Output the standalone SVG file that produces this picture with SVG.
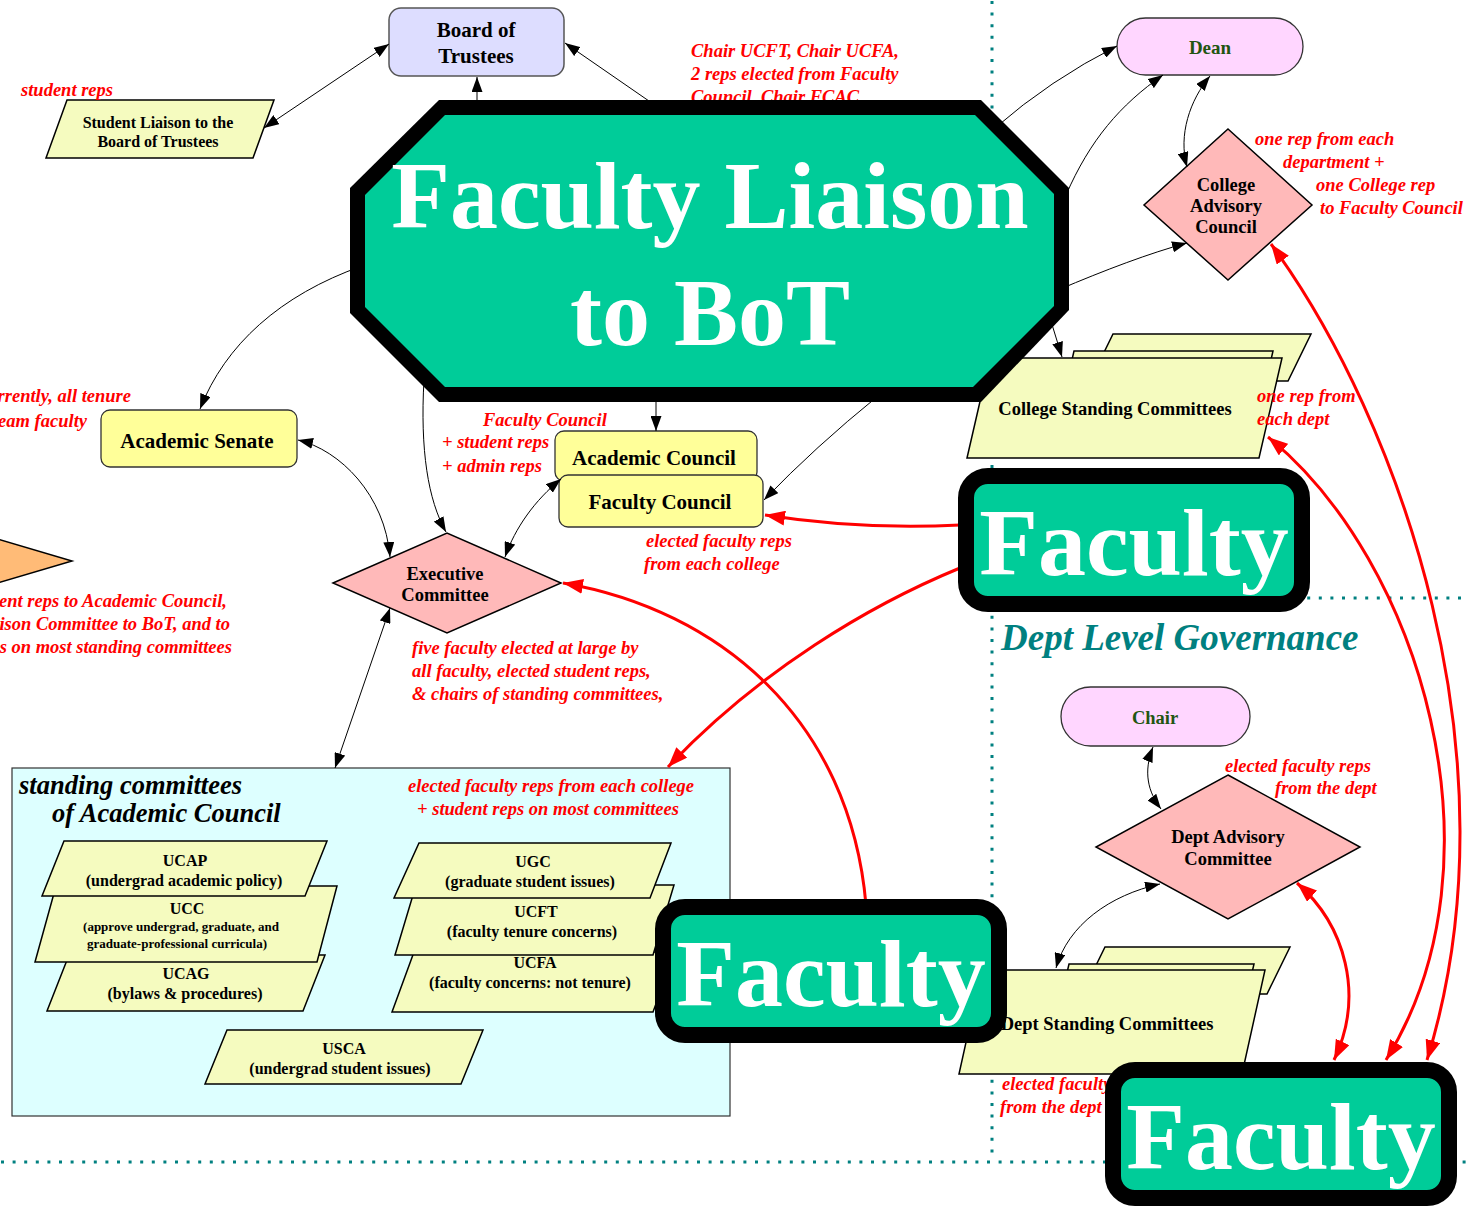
<svg xmlns="http://www.w3.org/2000/svg" width="1466" height="1207" viewBox="0 0 1466 1207">
<style>
.n{font-family:"Liberation Serif","Times New Roman",serif;font-weight:bold;fill:#000;text-anchor:middle}
.r{font-family:"Liberation Serif","Times New Roman",serif;font-weight:bold;font-style:italic;fill:#ff0000;font-size:18.5px}
.re{text-anchor:end}
.rm{text-anchor:middle}
.big{font-family:"Liberation Serif","Times New Roman",serif;font-weight:bold;fill:#fff;text-anchor:middle;font-size:96px}
.ed{fill:none;stroke:#000;stroke-width:1}
.er{fill:none;stroke:#ff0000;stroke-width:3}
.par{fill:#f5fbbf;stroke:#000;stroke-width:1.5}
.yel{fill:#ffff99;stroke:#333;stroke-width:1.3}
.dia{fill:#ffb9b9;stroke:#000;stroke-width:1.5}
.pill{fill:#ffd6ff;stroke:#333;stroke-width:1.3}
.dot{fill:none;stroke:#008080;stroke-width:3;stroke-dasharray:3 8.6}
.fac{fill:#00cc99;stroke:#000;stroke-width:16}
</style>
<defs>
<marker id="a" viewBox="0 0 15 11" refX="15" refY="5.5" markerWidth="15" markerHeight="11" markerUnits="userSpaceOnUse" orient="auto-start-reverse"><path d="M0,0L15,5.5L0,11z" fill="#000"/></marker>
<marker id="ar" viewBox="0 0 20 15" refX="20" refY="7.5" markerWidth="20" markerHeight="15" markerUnits="userSpaceOnUse" orient="auto-start-reverse"><path d="M0,0L20,7.5L0,15z" fill="#ff0000"/></marker>
</defs>
<rect width="1466" height="1207" fill="#fff"/>

<g id="dividers">
<line class="dot" x1="992" y1="1" x2="992" y2="1160"/>
<line class="dot" x1="994" y1="598" x2="1466" y2="598"/>
<line class="dot" x1="1" y1="1162" x2="1466" y2="1162"/>
</g>
<text x="1001" y="650" font-family="Liberation Serif, Times New Roman, serif" font-weight="bold" font-style="italic" font-size="37" fill="#008080">Dept Level Governance</text>

<g id="standing-committees">
<rect x="12" y="768" width="718" height="348" fill="#ddffff" stroke="#333" stroke-width="1.2"/>
<text x="19" y="794" font-family="Liberation Serif, Times New Roman, serif" font-weight="bold" font-style="italic" font-size="26.5">standing committees</text>
<text x="52" y="822" font-family="Liberation Serif, Times New Roman, serif" font-weight="bold" font-style="italic" font-size="26.5">of Academic Council</text>
</g>
<g id="UCAG"><polygon class="par" points="69,955 325,955 303,1011 47,1011"/><text class="n" x="186" y="979" font-size="16">UCAG</text><text class="n" x="185" y="999" font-size="16">(bylaws &amp; procedures)</text></g>
<g id="UCC"><polygon class="par" points="56,886 337,886 317,962 35,962"/><text class="n" x="187" y="914" font-size="16">UCC</text><text class="n" x="181" y="931" font-size="13">(approve undergrad, graduate, and</text><text class="n" x="177" y="948" font-size="13">graduate-professional curricula)</text></g>
<g id="UCAP"><polygon class="par" points="64,841 327,841 305,896 42,896"/><text class="n" x="185" y="866" font-size="16">UCAP</text><text class="n" x="184" y="886" font-size="16">(undergrad academic policy)</text></g>
<g id="UCFA"><polygon class="par" points="414,952 675,952 653,1012 392,1012"/><text class="n" x="535" y="968" font-size="16">UCFA</text><text class="n" x="530" y="988" font-size="16">(faculty concerns: not tenure)</text></g>
<g id="UCFT"><polygon class="par" points="416,885 674,885 653,955 395,955"/><text class="n" x="536" y="917" font-size="16">UCFT</text><text class="n" x="532" y="937" font-size="16">(faculty tenure concerns)</text></g>
<g id="UGC"><polygon class="par" points="419,843 671,843 650,898 394,898"/><text class="n" x="533" y="867" font-size="16">UGC</text><text class="n" x="530" y="887" font-size="16">(graduate student issues)</text></g>
<g id="USCA"><polygon class="par" points="227,1030 483,1030 461,1084 205,1084"/><text class="n" x="344" y="1054" font-size="16">USCA</text><text class="n" x="340" y="1074" font-size="16">(undergrad student issues)</text></g>

<g id="board"><rect x="389" y="8" width="175" height="68" rx="12" fill="#ddddff" stroke="#555" stroke-width="1.5"/><text class="n" x="476" y="37" font-size="21">Board of</text><text class="n" x="476" y="63" font-size="21">Trustees</text></g>
<g id="student-liaison"><polygon class="par" points="67,100 274,100 253,158 46,158"/><text class="n" x="158" y="128" font-size="16">Student Liaison to the</text><text class="n" x="158" y="147" font-size="16">Board of Trustees</text></g>
<g id="orange-triangle"><polygon points="-40,528 72,561 -40,594" fill="#ffbb77" stroke="#000" stroke-width="1.5"/></g>
<g id="academic-senate"><rect class="yel" x="101" y="410" width="196" height="57" rx="9"/><text class="n" x="197" y="448" font-size="21">Academic Senate</text></g>
<g id="academic-council"><rect class="yel" x="555" y="431" width="202" height="50" rx="9"/><text class="n" x="654" y="465" font-size="21">Academic Council</text></g>
<g id="faculty-council"><rect class="yel" x="559" y="475" width="204" height="52" rx="9"/><text class="n" x="660" y="509" font-size="21">Faculty Council</text></g>
<g id="executive-committee"><polygon class="dia" points="333,583 447,533 561,583 447,633"/><text class="n" x="445" y="580" font-size="18.5">Executive</text><text class="n" x="445" y="601" font-size="18.5">Committee</text></g>
<g id="dean"><rect class="pill" x="1117" y="18" width="186" height="57" rx="28.5"/><text class="n" x="1210" y="54" font-size="19" style="fill:#225511">Dean</text></g>
<g id="college-advisory-council"><polygon class="dia" points="1228,129 1312,205 1228,280 1144,205"/><text class="n" x="1226" y="191" font-size="18.5">College</text><text class="n" x="1226" y="212" font-size="18.5">Advisory</text><text class="n" x="1226" y="233" font-size="18.5">Council</text></g>
<g id="college-standing-committees"><polygon class="par" points="1113,334 1311,334 1288,381 1090,381"/><polygon class="par" points="1074,351 1273,351 1250,451 1051,451"/><polygon class="par" points="990,358 1282,358 1259,458 967,458"/><text class="n" x="1115" y="415" font-size="18.5">College Standing Committees</text></g>
<g id="chair"><rect class="pill" x="1061" y="687" width="189" height="59" rx="29.5"/><text class="n" x="1155" y="724" font-size="18.5" style="fill:#225511">Chair</text></g>
<g id="dept-advisory-committee"><polygon class="dia" points="1228,775 1360,847 1228,919 1096,847"/><text class="n" x="1228" y="843" font-size="18.5">Dept Advisory</text><text class="n" x="1228" y="865" font-size="18.5">Committee</text></g>
<g id="dept-standing-committees"><polygon class="par" points="1105,947 1290,947 1267,994 1082,994"/><polygon class="par" points="1069,964 1254,964 1231,1064 1046,1064"/><polygon class="par" points="982,970 1265,970 1242,1074 959,1074"/><text class="n" x="1107" y="1030" font-size="18.5">Dept Standing Committees</text></g>

<g id="connectors">
<path class="ed" d="M389,44 L264,128" marker-start="url(#a)" marker-end="url(#a)"/>
<path class="ed" d="M477,110 L477,77" marker-end="url(#a)"/>
<path class="ed" d="M662,110 L565,43" marker-end="url(#a)"/>
<path class="ed" d="M362,266 C 280,295 225,345 200,409" marker-end="url(#a)"/>
<path class="ed" d="M424,380 C 420,450 428,500 446,532" marker-end="url(#a)"/>
<path class="ed" d="M298,440 C 340,450 385,495 390,557" marker-start="url(#a)" marker-end="url(#a)"/>
<path class="ed" d="M656,395 L656,431" marker-end="url(#a)"/>
<path class="ed" d="M561,479 C 535,500 515,528 505,557" marker-start="url(#a)" marker-end="url(#a)"/>
<path class="ed" d="M878,396 Q 815,447 764,500" marker-end="url(#a)"/>
<path class="ed" d="M390,608 L335,768" marker-start="url(#a)" marker-end="url(#a)"/>
<path class="ed" d="M995,128 Q 1050,80 1117,46" marker-end="url(#a)"/>
<path class="ed" d="M1066,195 C 1090,140 1120,105 1163,75" marker-end="url(#a)"/>
<path class="ed" d="M1210,76 C 1190,100 1178,135 1187,167" marker-start="url(#a)" marker-end="url(#a)"/>
<path class="ed" d="M1058,290 C 1105,270 1150,253 1187,243" marker-end="url(#a)"/>
<path class="ed" d="M1050,318 L1062,357" marker-end="url(#a)"/>
<path class="ed" d="M1153,747 C 1143,772 1148,792 1161,809" marker-start="url(#a)" marker-end="url(#a)"/>
<path class="ed" d="M1160,884 C 1110,895 1068,925 1056,968" marker-start="url(#a)" marker-end="url(#a)"/>
<path class="er" d="M960,525 Q 860,530 765,515" marker-end="url(#ar)"/>
<path class="er" d="M960,568 C 870,605 760,670 668,767" marker-end="url(#ar)"/>
<path class="er" d="M866,905 C 850,720 720,610 563,583" marker-end="url(#ar)"/>
<path class="er" d="M1297,883 C 1345,925 1365,995 1334,1060" marker-start="url(#ar)" marker-end="url(#ar)"/>
<path class="er" d="M1268,437 C 1420,560 1510,860 1386,1060" marker-start="url(#ar)" marker-end="url(#ar)"/>
<path class="er" d="M1271,244 C 1400,420 1520,760 1427,1060" marker-start="url(#ar)" marker-end="url(#ar)"/>
</g>

<g id="labels">
<text class="r" x="21" y="96">student reps</text>
<text class="r" x="691" y="57">Chair UCFT, Chair UCFA,</text>
<text class="r" x="691" y="80">2 reps elected from Faculty</text>
<text class="r" x="691" y="103">Council, Chair FCAC</text>
<text class="r re" x="131" y="402">rrently, all tenure</text>
<text class="r re" x="87" y="427">eam faculty</text>
<text class="r re" x="227" y="607">ent reps to Academic Council,</text>
<text class="r re" x="230" y="630">ison Committee to BoT, and to</text>
<text class="r re" x="232" y="653">s on most standing committees</text>
<text class="r" x="483" y="426">Faculty Council</text>
<text class="r" x="442" y="448">+ student reps</text>
<text class="r" x="442" y="472">+ admin reps</text>
<text class="r" x="646" y="547">elected faculty reps</text>
<text class="r" x="644" y="570">from each college</text>
<text class="r" x="412" y="654">five faculty elected at large by</text>
<text class="r" x="412" y="677">all faculty, elected student reps,</text>
<text class="r" x="412" y="700">&amp; chairs of standing committees,</text>
<text class="r rm" x="551" y="792">elected faculty reps from each college</text>
<text class="r rm" x="548" y="815">+ student reps on most committees</text>
<text class="r" x="1255" y="145">one rep from each</text>
<text class="r" x="1283" y="168">department +</text>
<text class="r" x="1316" y="191">one College rep</text>
<text class="r" x="1320" y="214">to Faculty Council</text>
<text class="r" x="1257" y="402">one rep from</text>
<text class="r" x="1257" y="425">each dept</text>
<text class="r" x="1225" y="772">elected faculty reps</text>
<text class="r" x="1275" y="794">from the dept</text>
<text class="r" x="1002" y="1090">elected faculty reps</text>
<text class="r" x="1000" y="1113">from the dept</text>
</g>

<g id="faculty-liaison-to-bot">
<polygon points="439,100 981,100 1069,188 1069,310 981,402 439,402 350,313 350,188" fill="#000"/>
<polygon points="445,115 975,115 1054,194 1054,306 973,387 445,387 365,307 365,195" fill="#00cc99"/>
<text class="big" x="710" y="228">Faculty Liaison</text>
<text class="big" x="710" y="345">to BoT</text>
</g>
<g id="faculty-middle"><rect class="fac" x="663" y="907" width="336" height="128" rx="22"/><text class="big" x="831" y="1006">Faculty</text></g>
<g id="faculty-right"><rect class="fac" x="966" y="476" width="336" height="128" rx="22"/><text class="big" x="1134" y="575">Faculty</text></g>
<g id="faculty-bottom"><rect class="fac" x="1113" y="1070" width="336" height="128" rx="22"/><text class="big" x="1281" y="1169">Faculty</text></g>
</svg>
